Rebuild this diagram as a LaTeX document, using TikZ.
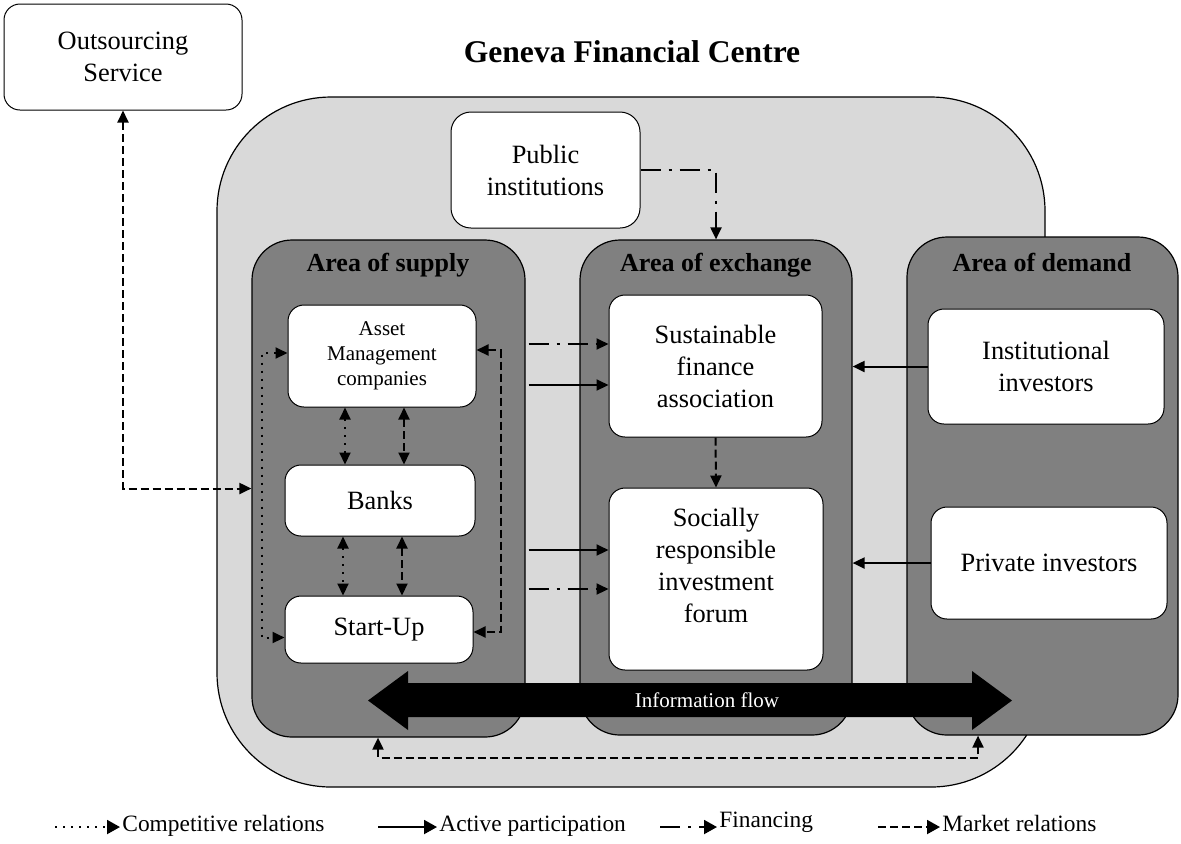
\documentclass[tikz,border=0pt]{standalone}
\usepackage{fontspec}
\setmainfont{LiberationSerif}[Extension=.ttf, UprightFont=*-Regular, BoldFont=*-Bold,
  ItalicFont=*-Italic, BoldItalicFont=*-BoldItalic]
\usetikzlibrary{arrows.meta,calc}
\definecolor{centregray}{HTML}{D9D9D9}
\definecolor{areagray}{HTML}{808080}

\begin{document}
\begin{tikzpicture}[x=0.5pt,y=-0.5pt,
  txt/.style={font=\fontsize{13.2}{16}\selectfont, align=center},
  whitebox/.style={draw=black, line width=0.5pt, fill=white, rounded corners=8pt, inner sep=0pt, txt},
  areabox/.style={draw=black, line width=0.6pt, fill=areagray, rounded corners=20pt, inner sep=0pt},
  areatitle/.style={font=\fontsize{13}{15}\selectfont\bfseries},
  legend/.style={font=\fontsize{11.7}{14}\selectfont, inner sep=1pt, anchor=west},
  tip/.style={-{Triangle[length=6pt,width=5.5pt]}},
  bigtip/.style={-{Triangle[length=6.5pt,width=7pt]}},
  bitip/.style={{Triangle[length=6pt,width=5.5pt]}-{Triangle[length=6pt,width=5.5pt]}},
  comp/.style={line width=1pt, dash pattern=on 1pt off 3pt},
  act/.style={line width=1pt},
  fin/.style={line width=1pt, dash pattern=on 10pt off 4pt on 1.5pt off 4pt},
  mkt/.style={line width=1pt, dash pattern=on 4pt off 2pt},
]
\useasboundingbox (0,0) rectangle (1181,843);

% Financial centre and its title
\node[draw=black, line width=0.6pt, fill=centregray, rounded corners=57pt,
      minimum width=414pt, minimum height=345pt, inner sep=0pt] (geneva) at (631,442) {};
\node[font=\fontsize{15.8}{18}\selectfont\bfseries] (title) at (632,52) {Geneva Financial Centre};

% Outside actor
\node[whitebox, minimum width=119pt, minimum height=53pt] (outs) at (123,57) {Outsourcing\\Service};

% Public institutions
\node[whitebox, rounded corners=10pt, minimum width=94.5pt, minimum height=58pt] (pub) at (545.5,170) {Public\\institutions};

% The three areas
\node[areabox, minimum width=136.5pt, minimum height=248.5pt] (supply) at (388.5,488.5) {};
\node[areabox, minimum width=136pt, minimum height=247.5pt] (exch) at (716,487.5) {};
\node[areabox, minimum width=135.5pt, minimum height=249pt] (demand) at (1042.5,486) {};
\node[areatitle] (supplyt) at (388,265) {Area of supply};
\node[areatitle] (excht) at (716,265) {Area of exchange};
\node[areatitle] (demandt) at (1042,262) {Area of demand};

% Supply side actors
\node[whitebox, font=\fontsize{10.5}{12.5}\selectfont, minimum width=94pt, minimum height=51pt] (am) at (382,356) {Asset\\Management\\companies};
\node[whitebox, minimum width=95pt, minimum height=35.5pt] (banks) at (380,500.5) {Banks};
\node[whitebox, minimum width=94pt, minimum height=33.5pt] (su) at (379,629.5) {Start-Up};

% Exchange actors
\node[whitebox, minimum width=106.5pt, minimum height=71pt] (sust) at (715.5,366) {Sustainable\\finance\\association};
\node[whitebox, minimum width=107pt, minimum height=91pt] (soc) at (716,579) {};
\node[txt] (soctext) at (716,565) {Socially\\responsible\\investment\\forum};

% Demand actors
\node[whitebox, minimum width=118pt, minimum height=57.5pt] (inst) at (1046,366.5) {Institutional\\investors};
\node[whitebox, minimum width=118pt, minimum height=56pt] (priv) at (1049,563) {Private investors};

% Column positions of the vertical links inside the supply area
\coordinate (xdot1) at (345,0);
\coordinate (xdash1) at (404,0);
\coordinate (xdot2) at (343,0);
\coordinate (xdash2) at (402,0);
\coordinate (xb1) at (378,0);
\coordinate (xb2) at (978,0);

% Market relation with the outsourcing service
\draw[mkt, bitip] (outs.south) |- (supply.west);

% Relations among supply actors
\draw[comp, bitip] ($(am.west)+(0,-3)$) -- ++(-26,0) |- ($(su.west)+(0,8)$);
\draw[mkt, bitip] ($(am.east)+(0,-6)$) -- ++(24,0) |- ($(su.east)+(0,2.5)$);
\draw[comp, bitip] (xdot1 |- am.south) -- (xdot1 |- banks.north);
\draw[mkt, bitip] (xdash1 |- am.south) -- (xdash1 |- banks.north);
\draw[comp, bitip] (xdot2 |- banks.south) -- (xdot2 |- su.north);
\draw[mkt, bitip] (xdash2 |- banks.south) -- (xdash2 |- su.north);

% Supply towards the exchange actors
\draw[fin, tip] ($(supply.east |- sust.west)+(3,-22)$) -- ($(sust.west)+(0,-22)$);
\draw[act, tip] ($(supply.east |- sust.west)+(3,19)$) -- ($(sust.west)+(0,19)$);
\draw[act, tip] ($(supply.east |- soc.west)+(3,-29)$) -- ($(soc.west)+(0,-29)$);
\draw[fin, tip] ($(supply.east |- soc.west)+(3,10)$) -- ($(soc.west)+(0,10)$);

% Demand towards the exchange area
\draw[act, tip] (inst.west) -- (inst.west -| exch.east);
\draw[act, tip] (priv.west) -- (priv.west -| exch.east);

% Public financing and the link between the two exchange actors
\draw[fin, tip] (pub.east) -| (exch.north);
\draw[mkt, tip] (sust.south) -- (soc.north);

% Information flow across the three areas
\fill[black] (368,700.5) -- (408,671) -- (408,683) -- (972,683) -- (972,671) -- (1012,700.5)
  -- (972,730) -- (972,717) -- (408,717) -- (408,730) -- cycle;
\node[text=white, font=\fontsize{10.5}{12}\selectfont] (info) at (707,700) {Information flow};

% Market relation between supply and demand
\draw[mkt, bitip] (xb1 |- supply.south) -- ++(0,20) -| (xb2 |- demand.south);

% Legend
\coordinate (l1) at (55,827);
\coordinate (l2) at (378,827);
\coordinate (l3) at (660,827);
\coordinate (l4) at (878,827);
\node[legend] (t1) at (120,826) {Competitive relations};
\node[legend] (t2) at (437,826) {Active participation};
\node[legend] (t3) at (717,822) {Financing};
\node[legend] (t4) at (940,823) {Market relations};
\draw[comp, bigtip] (l1) -- (l1 -| t1.west);
\draw[act, bigtip] (l2) -- (l2 -| t2.west);
\draw[fin, bigtip] (l3) -- (l3 -| t3.west);
\draw[mkt, bigtip] (l4) -- (l4 -| t4.west);
\end{tikzpicture}
\end{document}
